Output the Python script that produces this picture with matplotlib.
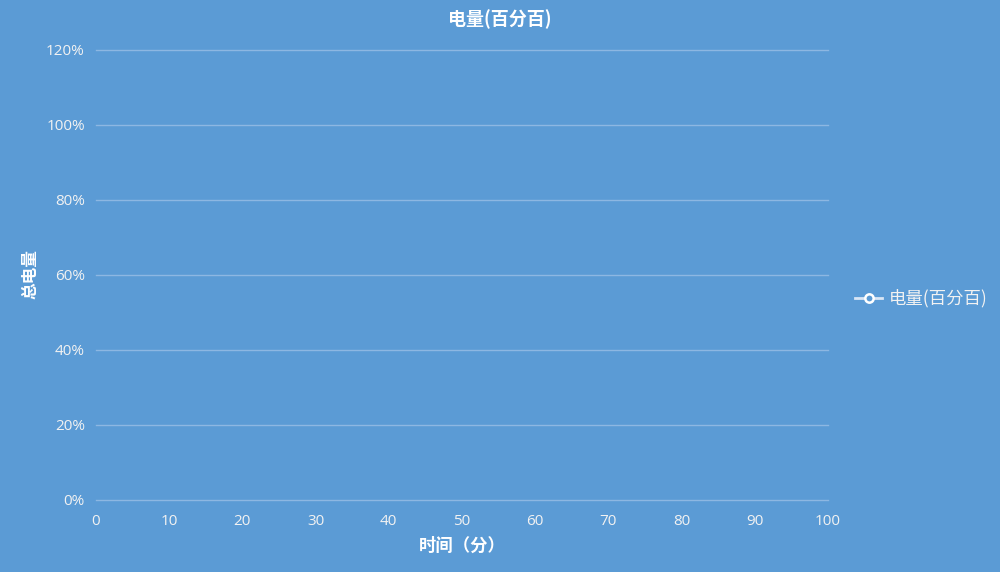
import matplotlib
matplotlib.use("Agg")
import matplotlib.pyplot as plt
from matplotlib.ticker import PercentFormatter

plt.rcParams['font.family'] = ['Noto Sans CJK SC', 'DejaVu Sans']

# data (the series in the reference has no points)
minutes = []
charge = []
x_ticks = [0, 10, 20, 30, 40, 50, 60, 70, 80, 90, 100]
y_ticks = [0, 20, 40, 60, 80, 100, 120]

bg = '#5b9bd5'
fg = '#f2f2f2'
grid = '#8db7e2'

fig = plt.figure(figsize=(10, 5.72), dpi=100, facecolor=bg)
ax = fig.add_axes([0.096, 0.126, 0.732, 0.787], facecolor=bg)

ax.plot(minutes, charge, color='#d9e6f5', lw=2, marker='o', markersize=6,
        markerfacecolor=bg, markeredgecolor='#ffffff', markeredgewidth=1.8,
        label='电量(百分百)')

ax.set_xlim(0, 100)
ax.set_ylim(0, 120)
ax.set_xticks(x_ticks)
ax.set_yticks(y_ticks)
ax.yaxis.set_major_formatter(PercentFormatter(decimals=0))
ax.grid(axis='y', color=grid, lw=1)
for gl in ax.get_ygridlines():
    gl.set_clip_on(False)
ax.set_axisbelow(True)
for s in ax.spines.values():
    s.set_visible(False)
ax.tick_params(length=0, colors=fg, labelsize=11)
ax.tick_params(axis='x', pad=10)
ax.tick_params(axis='y', pad=8)
for lab in ax.get_xticklabels() + ax.get_yticklabels():
    lab.set_fontfamily(['Open Sans', 'DejaVu Sans'])

fig.text(0.5, 0.967, '电量(百分百)', ha='center', va='center', color='white',
         fontsize=13, fontweight='bold')
ax.set_xlabel('时间（分）', color='white', fontsize=12.5, fontweight='bold', labelpad=6)
fig.text(0.031, 0.52, '总电量', ha='center', va='center', rotation=90,
         color='white', fontsize=12, fontweight='bold')

leg = fig.legend(loc='center left', bbox_to_anchor=(0.839, 0.478), frameon=False,
                 fontsize=12.5, handlelength=1.6, handletextpad=0.4)
for t in leg.get_texts():
    t.set_color(fg)

fig.savefig('out.png', dpi=100, facecolor=bg)
